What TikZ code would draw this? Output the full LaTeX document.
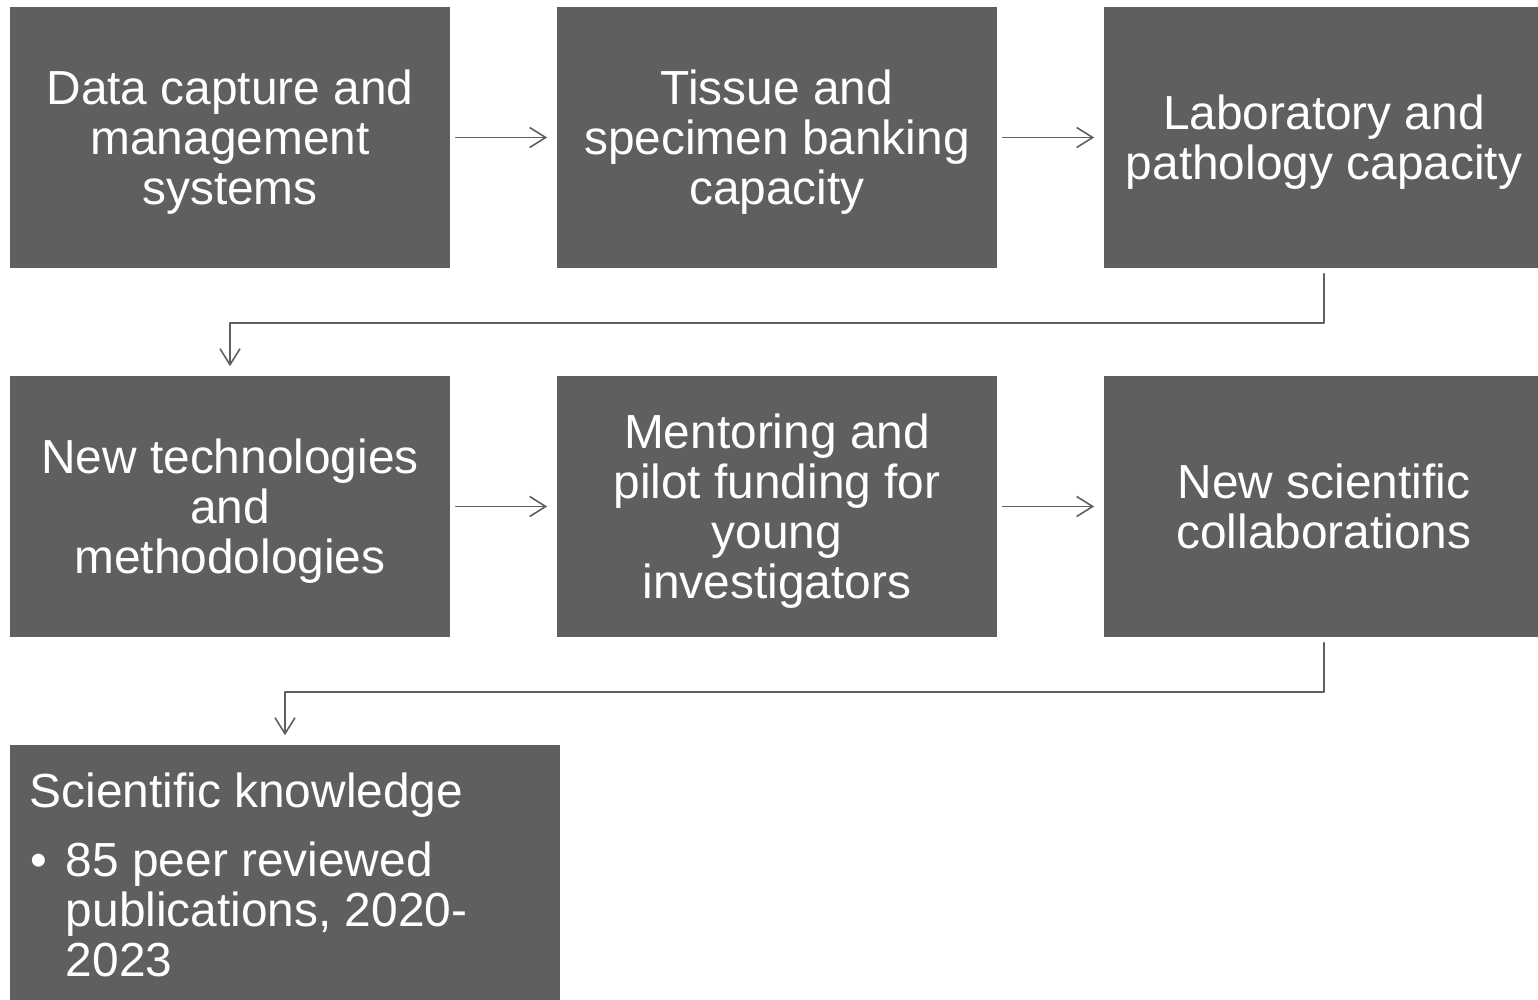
\documentclass[tikz,border=0pt]{standalone}
\usepackage{fontspec}
\setmainfont{Liberation Sans}
\usetikzlibrary{arrows.meta}
\definecolor{boxgray}{HTML}{5F5F5F}
\begin{document}
\begin{tikzpicture}[x=0.01cm, y=-0.01cm, line join=round, line cap=round,
  blk/.style={fill=boxgray, text=white, minimum width=4.4cm, minimum height=2.61cm,
    inner sep=0pt, align=center, text depth=0pt, font=\fontsize{13.6}{14.2}\selectfont},
  arr/.style={draw=boxgray, line width=0.45pt, -{Straight Barb[length=0.16cm, width=0.2cm]},
    shorten <=0.05cm, shorten >=0.09cm}]
 \useasboundingbox (0,0) rectangle (1538,1000);
 % first row
 \node[blk] (data) at (230,137.5) {Data capture and\\management\\systems};
 \node[blk] (tissue) at (777,137.5) {Tissue and\\specimen banking\\capacity};
 \node[blk] (lab) at (1324,137.5) {Laboratory and\\pathology capacity};
 % second row
 \node[blk] (tech) at (230,506.5) {New technologies\\and\\methodologies};
 \node[blk] (mentor) at (777,506.5) {Mentoring and\\pilot funding for\\young\\investigators};
 \node[blk] (collab) at (1324,506.5) {New scientific\\collaborations};
 % result
 \node[blk, minimum width=5.5cm, align=left, text depth=] (know) at (285,875.5) {%
  \begin{minipage}{5.1cm}
   \vspace{-0.02cm}Scientific knowledge\par\vspace{0.19cm}
   \hangindent=0.36cm\hangafter=1
   \makebox[0.36cm][l]{\hspace{0.01cm}\textbullet}85 peer reviewed\newline publications, 2020-\newline 2023
  \end{minipage}};
 \draw[arr] (data) -- (tissue);
 \draw[arr] (tissue) -- (lab);
 \draw[arr] (tech) -- (mentor);
 \draw[arr] (mentor) -- (collab);
 \draw[arr] (lab.south) -- ++(0,54) -| (tech.north);
 \draw[arr] (collab.south) -- ++(0,54) -| (know.north);
\end{tikzpicture}
\end{document}
